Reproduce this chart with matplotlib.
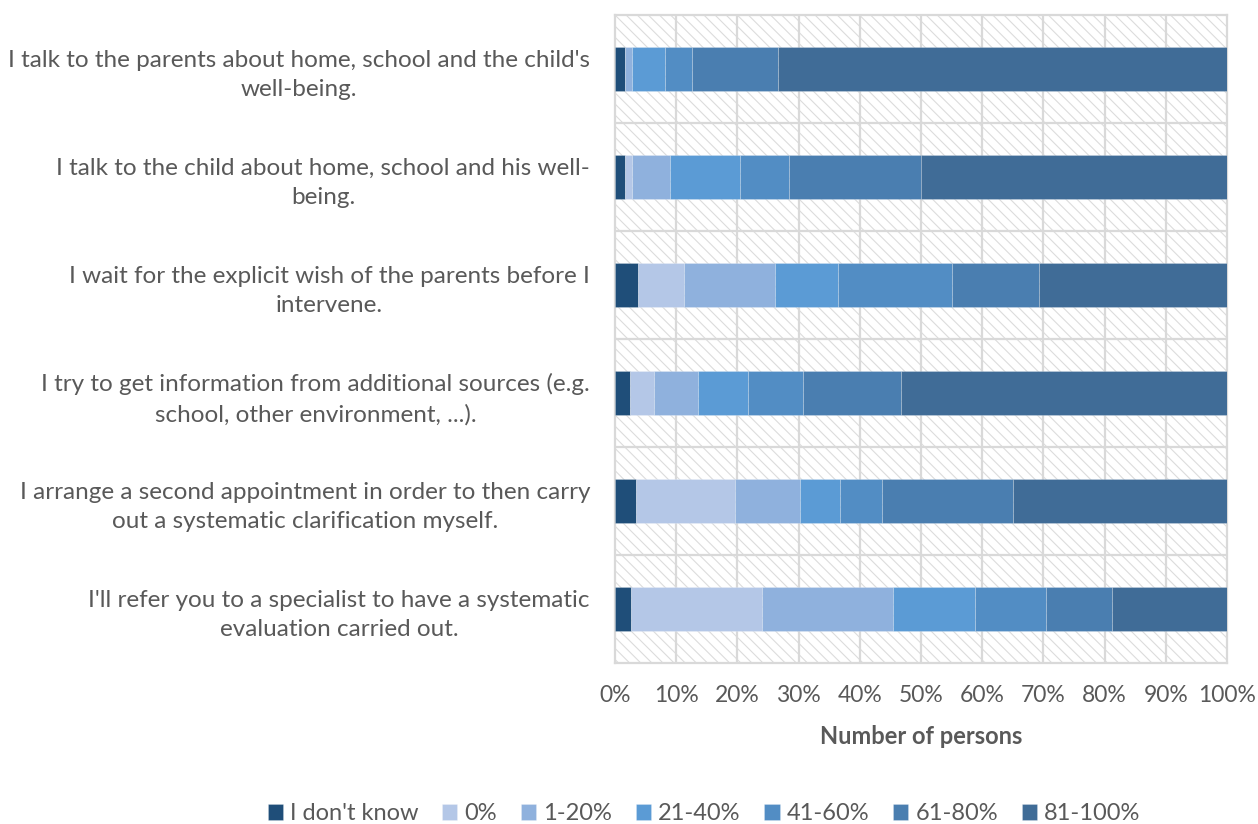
import matplotlib.pyplot as plt
import numpy as np
from matplotlib.patches import Rectangle

plt.rcParams["font.family"] = ["Lato", "DejaVu Sans"]
plt.rcParams["hatch.linewidth"] = 0.8

TEXT = "#595959"
GRID = "#d9d9d9"
HATCH = "#dcdcdc"

categories = [
    "I talk to the parents about home, school and the child's\nwell-being.",
    "I talk to the child about home, school and his well-\nbeing.",
    "I wait for the explicit wish of the parents before I\nintervene.",
    "I try to get information from additional sources (e.g.\nschool, other environment, ...).",
    "I arrange a second appointment in order to then carry\nout a systematic clarification myself.",
    "I'll refer you to a specialist to have a systematic\nevaluation carried out.",
]

series = ["I don't know", "0%", "1-20%", "21-40%", "41-60%", "61-80%", "81-100%"]
colors = ["#1f4e79", "#b4c7e7", "#8fb1dd", "#5b9bd5", "#528dc4", "#4a7eb0", "#406c97"]

# percent of persons per answer, one list per category (top to bottom)
dont_know = [1.6, 1.6, 3.7, 2.5, 3.5, 2.6]
pct_0     = [0.0, 1.1, 7.5, 3.8, 16.1, 21.5]
pct_1_20  = [1.1, 6.3, 15.0, 7.2, 10.7, 21.4]
pct_21_40 = [5.4, 11.5, 10.2, 8.2, 6.4, 13.4]
pct_41_60 = [4.4, 8.0, 18.7, 9.0, 7.0, 11.6]
pct_61_80 = [14.2, 21.5, 14.1, 16.1, 21.4, 10.7]
pct_81_100 = [73.3, 50.0, 30.8, 53.2, 34.9, 18.8]

data = np.array([dont_know, pct_0, pct_1_20, pct_21_40, pct_41_60, pct_61_80, pct_81_100])
data = data / data.sum(axis=0) * 100

fig = plt.figure(figsize=(12.58, 8.24), dpi=100)
ax = fig.add_axes([615 / 1258, 1 - 663 / 824, 612 / 1258, 648 / 824])

# hatched plot area background (Excel pattern fill)
ax.add_patch(Rectangle((0, 0), 1, 1, transform=ax.transAxes, facecolor="white",
                       edgecolor=HATCH, linewidth=0, hatch="\\\\\\", zorder=0))

y = np.arange(len(categories))
left = np.zeros(len(categories))
for vals, name, col in zip(data, series, colors):
    ax.barh(y, vals, left=left, height=0.41, color=col, label=name,
            edgecolor=(1, 1, 1, 0.25), linewidth=0.6, zorder=3)
    left += vals

ax.set_xlim(0, 100)
ax.set_ylim(len(categories) - 0.5, -0.5)

for xv in np.arange(10, 100, 10):
    ax.axvline(xv, color=GRID, linewidth=1.6, zorder=1)
for yv in np.arange(0.5, len(categories) - 0.5, 1):
    ax.axhline(yv, color=GRID, linewidth=1.6, zorder=1)

for s in ax.spines.values():
    s.set_color(GRID)
    s.set_linewidth(1.6)

ax.set_xticks(np.arange(0, 101, 10))
ax.set_xticklabels([f"{v}%" for v in range(0, 101, 10)], fontsize=16.5)
ax.set_yticks(y)
ax.set_yticklabels(categories, linespacing=1.5, fontsize=17.5)
for lbl in ax.get_yticklabels():
    lbl.set_multialignment("center")
ax.tick_params(axis="both", length=0, colors=TEXT)
ax.tick_params(axis="x", pad=16)
ax.tick_params(axis="y", pad=18)

fig.text(921 / 1258, 1 - 737 / 824, "Number of persons", color=TEXT, fontsize=17,
         fontweight="bold", ha="center", va="center")

handles, labels = ax.get_legend_handles_labels()
fig.legend(handles, labels, loc="center", bbox_to_anchor=(704 / 1258, 1 - 814 / 824), ncol=7,
           frameon=False, fontsize=17, labelcolor=TEXT, handlelength=0.65,
           handleheight=0.65, handletextpad=0.3, columnspacing=1.0)

fig.savefig("out.png", dpi=100)
